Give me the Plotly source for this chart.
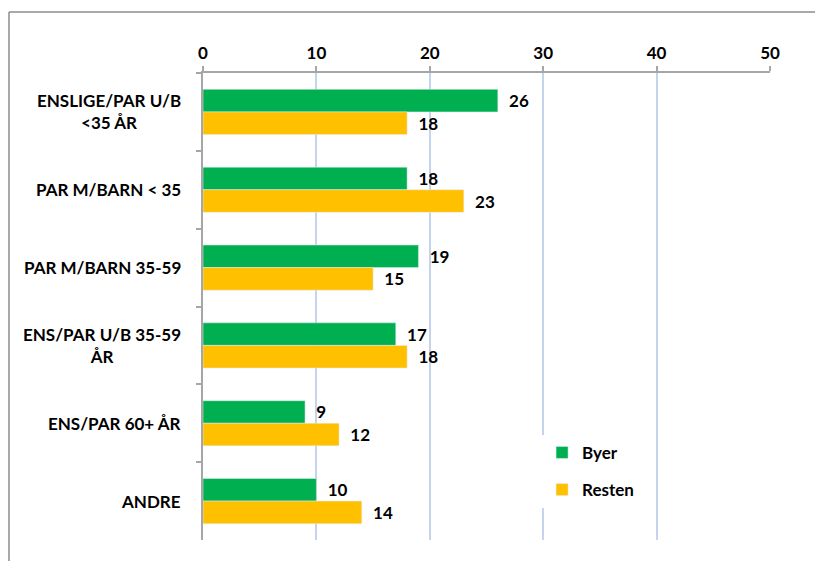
import plotly.graph_objects as go

categories = ["ENSLIGE/PAR U/B<br>&lt;35 ÅR", "PAR M/BARN &lt; 35", "PAR M/BARN 35-59",
              "ENS/PAR U/B 35-59<br>ÅR", "ENS/PAR 60+ ÅR", "ANDRE"]
cat_keys = ["c1", "c2", "c3", "c4", "c5", "c6"]
byer = [26, 18, 19, 17, 9, 10]
resten = [18, 23, 15, 18, 12, 14]
x_ticks = [0, 10, 20, 30, 40, 50]

FONT = "Lato"
FS = 17
fig = go.Figure()
fig.add_trace(go.Bar(
    name="Byer", y=cat_keys, x=byer, orientation="h",
    marker=dict(color="#00B050"), legendgroup="a",
    text=["  " + str(v) for v in byer], textposition="outside",
    textfont=dict(family=FONT, size=FS, color="black", weight="bold"),
    cliponaxis=False,
))
fig.add_trace(go.Bar(
    name="Resten", y=cat_keys, x=resten, orientation="h",
    marker=dict(color="#FFC000"), legendgroup="b",
    text=["  " + str(v) for v in resten], textposition="outside",
    textfont=dict(family=FONT, size=FS, color="black", weight="bold"),
    cliponaxis=False,
))

annotations = []
for k, lab in zip(cat_keys, categories):
    annotations.append(dict(
        x=0, xref="x domain", xshift=-20, y=k, yref="y", text=lab, showarrow=False,
        xanchor="right", align="center", yanchor="middle",
        font=dict(family=FONT, size=FS, color="black", weight="bold"),
    ))

bx0 = (9 - 203) / 567
by1 = (540 - 12) / 467
border = dict(color="#8C8C8C", width=1.5)

# page body has an 8px margin, so the figure is drawn 8px smaller and offset
fig.update_layout(
    width=815, height=553,
    margin=dict(l=195, r=53, t=65, b=21),
    paper_bgcolor="white", plot_bgcolor="white",
    barmode="group", bargap=0.42, bargroupgap=0,
    font=dict(family=FONT, size=FS, color="black"),
    xaxis=dict(
        side="top", range=[0, 50], tickvals=x_ticks, ticktext=[str(v) for v in x_ticks],
        showgrid=True, gridcolor="#C5D4EE", gridwidth=1.5, zeroline=False,
        showline=True, linecolor="#A6A6A6", linewidth=1.5,
        ticks="outside", ticklen=5, tickcolor="#A6A6A6", tickwidth=1.5,
        tickfont=dict(family=FONT, size=FS, color="black", weight="bold"),
    ),
    yaxis=dict(
        autorange="reversed", categoryorder="array", categoryarray=cat_keys,
        showticklabels=False, showline=True, linecolor="#A6A6A6", linewidth=1.5,
        ticks="outside", tickson="boundaries", ticklen=5, tickcolor="#A6A6A6", tickwidth=1.5,
        showgrid=False, zeroline=False,
    ),
    legend=dict(
        x=0.598, y=0.225, xanchor="left", yanchor="top",
        bgcolor="white", tracegroupgap=12,
        font=dict(family=FONT, size=FS, color="black", weight="bold"),
    ),
    annotations=annotations,
    shapes=[
        dict(type="line", xref="paper", yref="paper", x0=bx0, x1=1.2, y0=by1, y1=by1, line=border),
        dict(type="line", xref="paper", yref="paper", x0=bx0, x1=bx0, y0=-0.2, y1=by1, line=border),
    ],
    showlegend=True,
)

fig.write_html("out.html", config={"displayModeBar": False})
